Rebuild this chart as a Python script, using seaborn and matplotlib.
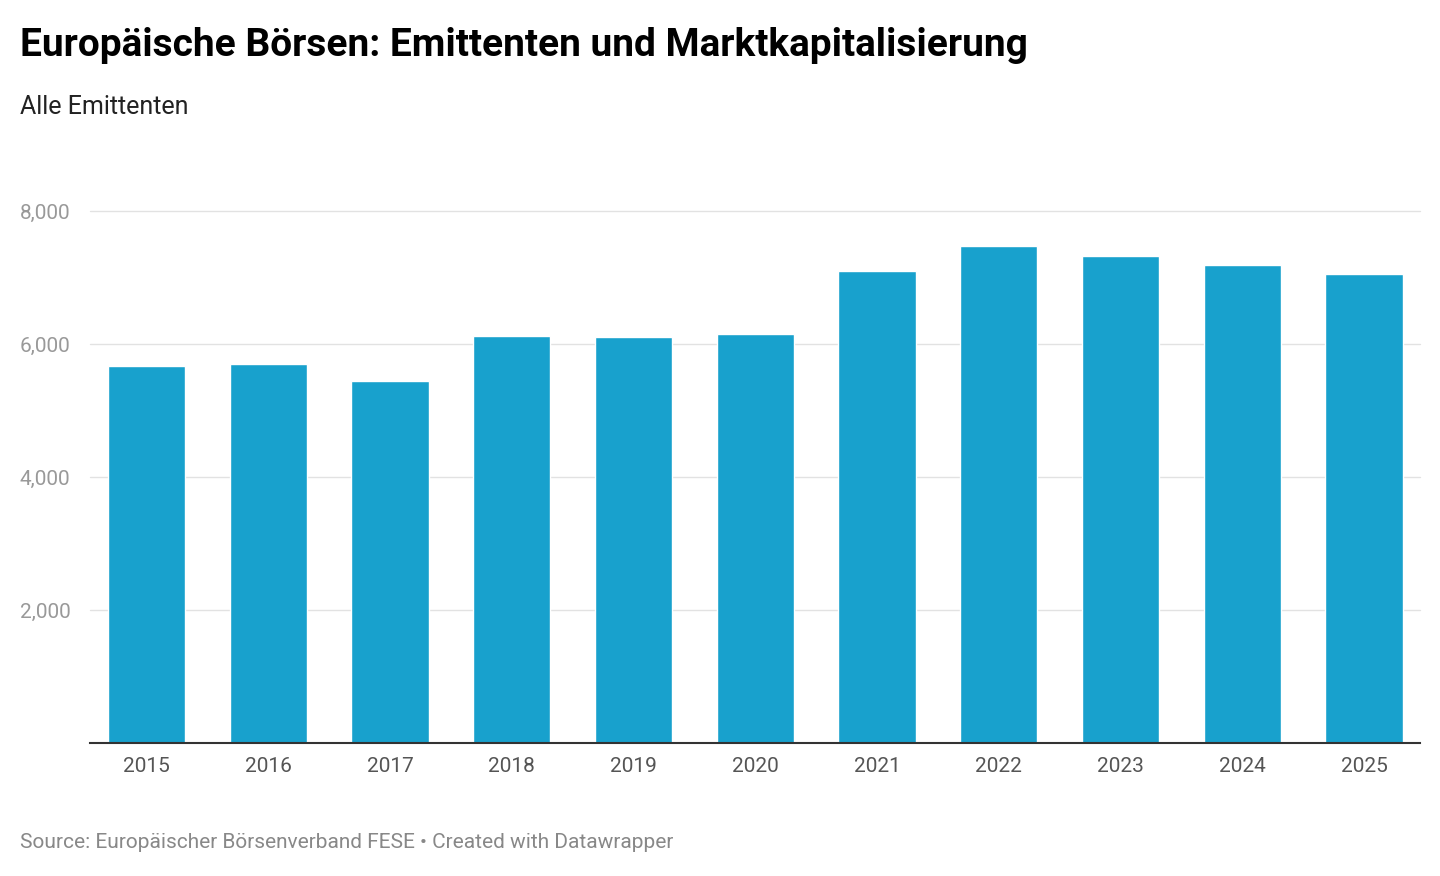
import matplotlib
matplotlib.use("Agg")
import matplotlib.pyplot as plt
import seaborn as sns
import pandas as pd

years = ["2015","2016","2017","2018","2019","2020","2021","2022","2023","2024","2025"]
values = [5670, 5700, 5444, 6120, 6105, 6150, 7098, 7474, 7323, 7188, 7053]
yticks = [2000, 4000, 6000, 8000]

sns.set_theme(style="white")
plt.rcParams['font.family'] = ['Roboto', 'DejaVu Sans']

fig = plt.figure(figsize=(14.4, 8.76), dpi=100)
ax = fig.add_axes([90/1440, 1-743/876, (1420-90)/1440, (743-211)/876])
df = pd.DataFrame({"year": years, "value": values})
sns.barplot(data=df, x="year", y="value", color="#18a1cd", saturation=1, width=0.635, ax=ax, zorder=3)
ax.set_xlim(-0.465, 10.46)
ax.set_ylim(0, 8000)
ax.set_yticks(yticks)
ax.set_yticklabels([f"{v:,}" for v in yticks])
for t in yticks:
    ax.axhline(t, color="#e2e2e2", lw=1, zorder=1, clip_on=False)
for s in ["top", "right", "left"]:
    ax.spines[s].set_visible(False)
ax.spines["bottom"].set_color("#333333")
ax.spines["bottom"].set_linewidth(1.5)
ax.spines["bottom"].set_zorder(4)
ax.set_xlabel("")
ax.set_ylabel("")
ax.tick_params(axis="x", length=0, labelsize=15, colors="#555555", pad=10)
ax.tick_params(axis="y", length=0, labelsize=15, colors="#999999", pad=0)
for lab in ax.get_yticklabels():
    lab.set_horizontalalignment("left")
    lab.set_x(-70/1330)

fig.text(20/1440, 1-45/876, "Europäische Börsen: Emittenten und Marktkapitalisierung",
         fontsize=28, fontweight="bold", color="#000000", va="center")
fig.text(20/1440, 1-107/876, "Alle Emittenten", fontsize=18, color="#222222", va="center")
fig.text(20/1440, 1-843/876, "Source: Europäischer Börsenverband FESE • Created with Datawrapper",
         fontsize=15, color="#888888", va="center")

fig.savefig("out.png", dpi=100)
